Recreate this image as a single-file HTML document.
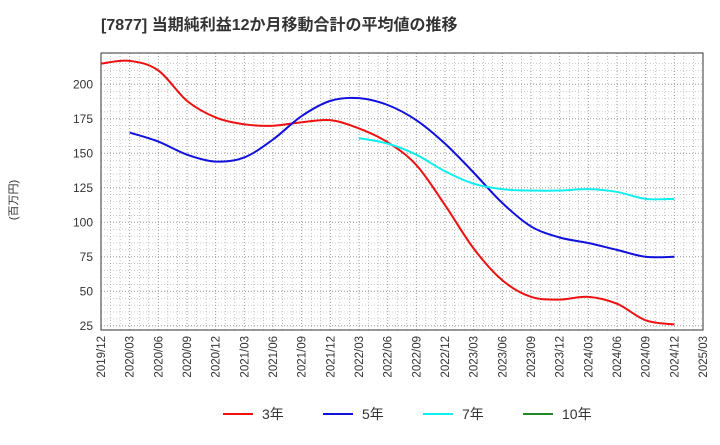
<!DOCTYPE html>
<html><head><meta charset="utf-8"><style>
body{margin:0;background:#fff;width:720px;height:440px;overflow:hidden;font-family:"Liberation Sans","Noto Sans CJK JP",sans-serif}
</style></head><body>
<svg id="c" width="720" height="440" xmlns="http://www.w3.org/2000/svg">
<text x="101" y="30" font-size="16" font-weight="bold" fill="#333">[7877]  当期純利益12か月移動合計の平均値の推移</text>
<text transform="translate(17,200) rotate(-90)" font-size="11" fill="#333" text-anchor="middle">(百万円)</text>
<g id="grid"></g><g id="axes"></g><g id="lines"></g><g id="legend"></g>
</svg>
<script>
const labels=["2019/12","2020/03","2020/06","2020/09","2020/12","2021/03","2021/06","2021/09","2021/12","2022/03","2022/06","2022/09","2022/12","2023/03","2023/06","2023/09","2023/12","2024/03","2024/06","2024/09","2024/12","2025/03"];
const yTicks=[25,50,75,100,125,150,175,200];
const s3=[215,217,210,188,176,171,170,172.5,174,168,158,141.5,112.5,81,58,46,44,46,41,29,26];
const s5=[null,165,158.5,149,144,147,160,177,188,190,185,174,157,136,114,97,89,85,80,75,75];
const s7=[null,null,null,null,null,null,null,null,null,161,157,149,137,128,124,123,123,124,122,117,117];
const s10=[];
const NS="http://www.w3.org/2000/svg";
const L=101,R=703,T=53,B=330;
const x=i=>L+i*(R-L)/(labels.length-1);
const y=v=>84.3+(200-v)*34.5/25;
function mk(tag,at,par){const e=document.createElementNS(NS,tag);for(const k in at)e.setAttribute(k,at[k]);document.getElementById(par).appendChild(e);return e;}
for(let m=1;m<63;m++){const xx=L+m*(R-L)/63;const l=mk('line',{x1:xx,x2:xx,y1:T,y2:B,stroke:'#999','stroke-dasharray':'1,2','stroke-width':m%3==0?1:0.6},'grid');

}
for(let v=25;v<=215;v+=5){const l=mk('line',{x1:L,x2:R,y1:y(v),y2:y(v),stroke:'#999','stroke-dasharray':'1,2','stroke-width':v%25==0?1:0.5},'grid');

}
const fr=mk('rect',{x:L,y:T,width:R-L,height:B-T,fill:'none',stroke:'#333'},'axes');


yTicks.forEach(v=>{const t=mk('text',{x:L-8,y:y(v)+4,'font-size':12,fill:'#333','text-anchor':'end'},'axes');t.textContent=v;

});
labels.forEach((s,i)=>{const t=mk('text',{transform:`translate(${x(i)+4},${B+6}) rotate(-90)`,'font-size':11.5,fill:'#333','text-anchor':'end'},'axes');t.textContent=s;

});
function path(arr){const p=[];arr.forEach((v,i)=>{if(v!=null)p.push([x(i),y(v)]);});if(p.length<2)return'';let d=`M${p[0][0]},${p[0][1]}`;
for(let i=0;i<p.length-1;i++){const p0=p[i-1]||p[i],p1=p[i],p2=p[i+1],p3=p[i+2]||p2;
d+=` C${p1[0]+(p2[0]-p0[0])/6},${p1[1]+(p2[1]-p0[1])/6} ${p2[0]-(p3[0]-p1[0])/6},${p2[1]-(p3[1]-p1[1])/6} ${p2[0]},${p2[1]}`;}return d;}
const series=[[s3,'#ee1111','3年','line-3yr'],[s5,'#1111dd','5年','line-5yr'],[s7,'#11eeee','7年','line-7yr'],[s10,'#228822','10年','line-10yr']];
series.forEach(([a,c,n,nm],k)=>{const d=path(a);if(d){const p=mk('path',{d,fill:'none',stroke:c,'stroke-width':2},'lines');

}
const lx=223+k*100;
const g=mk('g',{},'legend');


const ln=document.createElementNS(NS,'line');ln.setAttribute('x1',lx);ln.setAttribute('x2',lx+30);ln.setAttribute('y1',414);ln.setAttribute('y2',414);ln.setAttribute('stroke',c);ln.setAttribute('stroke-width',2);g.appendChild(ln);
const t=document.createElementNS(NS,'text');t.setAttribute('x',lx+39);t.setAttribute('y',419);t.setAttribute('font-size',14);t.setAttribute('fill','#333');t.textContent=n;g.appendChild(t);});
</script>
</body></html>
